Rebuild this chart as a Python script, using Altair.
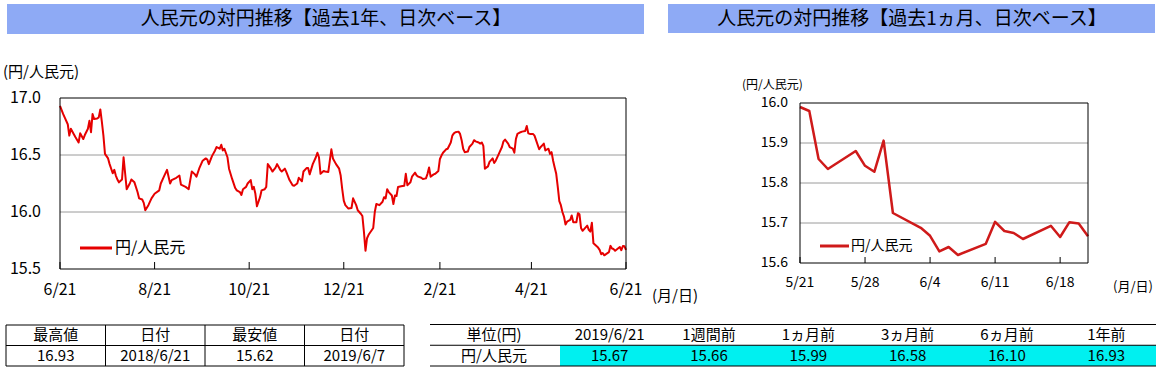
import altair as alt
import pandas as pd

FONT = "Noto Sans CJK JP"
RED_1Y = "#E60000"
RED_1M = "#CF1A1A"
GRID = "#9A9A9A"
BAR = "#8EAAF5"
CYAN = "#00F0F0"

# ---------------- data ----------------
YEAR_START = "2018-06-21"
YEAR_END = "2019-06-21"
# days since 2018-06-21
year_days = [0, 2, 5, 6, 7, 9, 10, 12, 13, 15, 16, 18, 19, 20, 21, 22, 24, 25, 26, 27,
             28, 29, 31, 32, 34, 35, 36, 37, 38, 40, 41, 42, 43, 45, 46, 48, 50, 51, 53, 54,
             55, 57, 59, 61, 64, 65, 67, 69, 71, 72, 75, 77, 78, 81, 83, 84, 85, 87, 88, 90,
             92, 94, 95, 96, 98, 100, 101, 103, 104, 105, 106, 108, 109, 111, 113, 114, 116, 117, 118, 120,
             121, 123, 124, 125, 126, 127, 129, 130, 132, 133, 134, 136, 137, 139, 140, 142, 143, 145, 146, 148,
             150, 151, 153, 154, 156, 157, 159, 160, 161, 163, 165, 166, 167, 168, 170, 171, 173, 174, 175, 176,
             178, 180, 181, 182, 183, 184, 186, 188, 189, 191, 192, 194, 195, 196, 197, 198, 199, 201, 202, 203,
             204, 206, 208, 209, 210, 211, 212, 214, 215, 216, 217, 218, 220, 222, 223, 224, 226, 227, 229, 230,
             231, 233, 234, 236, 237, 238, 239, 241, 242, 244, 245, 246, 247, 249, 250, 252, 253, 254, 255, 257,
             258, 259, 260, 261, 263, 264, 266, 267, 268, 270, 271, 272, 273, 274, 276, 277, 279, 280, 281, 283,
             285, 286, 287, 289, 290, 292, 293, 294, 295, 297, 298, 300, 301, 302, 303, 305, 306, 307, 309, 310,
             311, 312, 313, 315, 316, 317, 318, 319, 320, 321, 322, 323, 324, 325, 326, 327, 329, 330, 331, 332,
             333]
year_values = [16.93, 16.86, 16.77, 16.67, 16.73, 16.68, 16.655, 16.61, 16.69, 16.64, 16.675, 16.73, 16.80, 16.70, 16.86, 16.815, 16.82, 16.83, 16.90, 16.79,
               16.67, 16.51, 16.47, 16.42, 16.34, 16.37, 16.32, 16.285, 16.26, 16.285, 16.48, 16.34, 16.20, 16.25, 16.285, 16.26, 16.175, 16.12, 16.11, 16.08,
               16.015, 16.06, 16.12, 16.16, 16.19, 16.25, 16.31, 16.37, 16.25, 16.28, 16.30, 16.32, 16.24, 16.22, 16.20, 16.28, 16.355, 16.33, 16.31, 16.39,
               16.45, 16.47, 16.46, 16.42, 16.49, 16.54, 16.57, 16.555, 16.59, 16.54, 16.555, 16.48, 16.38, 16.29, 16.21, 16.19, 16.175, 16.15, 16.20, 16.22,
               16.25, 16.28, 16.20, 16.22, 16.16, 16.05, 16.13, 16.19, 16.20, 16.22, 16.42, 16.38, 16.355, 16.39, 16.42, 16.37, 16.355, 16.38, 16.35, 16.28,
               16.235, 16.23, 16.25, 16.30, 16.27, 16.355, 16.385, 16.385, 16.33, 16.42, 16.48, 16.52, 16.48, 16.335, 16.36, 16.355, 16.35, 16.45, 16.55, 16.47,
               16.42, 16.38, 16.32, 16.20, 16.10, 16.06, 16.03, 16.035, 16.12, 16.06, 16.015, 15.985, 15.965, 15.825, 15.66, 15.77, 15.80, 15.84, 15.86, 16.00,
               16.07, 16.06, 16.09, 16.13, 16.12, 16.20, 16.175, 16.145, 16.07, 16.145, 16.14, 16.22, 16.225, 16.23, 16.335, 16.235, 16.26, 16.31, 16.345, 16.32,
               16.31, 16.30, 16.29, 16.295, 16.335, 16.39, 16.31, 16.33, 16.335, 16.36, 16.465, 16.495, 16.52, 16.55, 16.555, 16.61, 16.67, 16.69, 16.70, 16.705,
               16.685, 16.63, 16.555, 16.525, 16.53, 16.57, 16.60, 16.63, 16.62, 16.61, 16.60, 16.61, 16.58, 16.38, 16.40, 16.44, 16.47, 16.43, 16.45, 16.51,
               16.57, 16.62, 16.635, 16.60, 16.57, 16.555, 16.52, 16.64, 16.685, 16.70, 16.705, 16.71, 16.755, 16.69, 16.685, 16.685, 16.67, 16.63, 16.55, 16.57,
               16.585, 16.60, 16.54, 16.555, 16.51, 16.525, 16.45, 16.39, 16.335, 16.22, 16.095, 16.06, 16.00, 15.96, 15.89, 15.915, 15.93, 15.97, 15.91, 15.91,
               15.91]

# last month
month_dates = ["2019-05-21", "2019-05-22", "2019-05-23", "2019-05-24", "2019-05-27", "2019-05-28",
               "2019-05-29", "2019-05-30", "2019-05-31", "2019-06-03", "2019-06-04", "2019-06-05",
               "2019-06-06", "2019-06-07", "2019-06-10", "2019-06-11", "2019-06-12", "2019-06-13",
               "2019-06-14", "2019-06-17", "2019-06-18", "2019-06-19", "2019-06-20", "2019-06-21"]
month_values = [15.99, 15.98, 15.86, 15.835, 15.88, 15.843,
                15.828, 15.906, 15.725, 15.688, 15.668, 15.629,
                15.64, 15.62, 15.648, 15.703, 15.68, 15.675,
                15.66, 15.693, 15.665, 15.702, 15.699, 15.667]

left_x_ticks = ["2018-06-21", "2018-08-21", "2018-10-21", "2018-12-21", "2019-02-21", "2019-04-21", "2019-06-21"]
left_x_labels = ["6/21", "8/21", "10/21", "12/21", "2/21", "4/21", "6/21"]
left_y_ticks = [15.5, 16.0, 16.5, 17.0]
left_y_labels = ["15.5", "16.0", "16.5", "17.0"]
left_grid = [16.0, 16.5]

right_x_ticks = ["2019-05-21", "2019-05-28", "2019-06-04", "2019-06-11", "2019-06-18"]
right_x_labels = ["5/21", "5/28", "6/4", "6/11", "6/18"]
right_y_ticks = [15.6, 15.7, 15.8, 15.9, 16.0]
right_y_labels = ["15.6", "15.7", "15.8", "15.9", "16.0"]
right_grid = [15.7, 15.8, 15.9]
RIGHT_START = "2019-05-21"
RIGHT_END = "2019-06-21"

title_left = "人民元の対円推移【過去1年、日次ベース】"
title_right = "人民元の対円推移【過去1ヵ月、日次ベース】"
unit_label = "(円/人民元)"
date_label = "(月/日)"
series_name = "円/人民元"

hl_headers = ["最高値", "日付", "最安値", "日付"]
hl_values = ["16.93", "2018/6/21", "15.62", "2019/6/7"]

cmp_corner = "単位(円)"
cmp_row = "円/人民元"
cmp_headers = ["2019/6/21", "1週間前", "1ヵ月前", "3ヵ月前", "6ヵ月前", "1年前"]
cmp_values = ["15.67", "15.66", "15.99", "16.58", "16.10", "16.93"]

# ---------------- tables ----------------
year_df = pd.DataFrame({
    "date": pd.Timestamp(YEAR_START) + pd.to_timedelta(year_days, unit="D"),
    "value": year_values,
})
month_df = pd.DataFrame({"date": pd.to_datetime(month_dates), "value": month_values})
full_df = pd.concat([year_df, month_df], ignore_index=True)

one = pd.DataFrame({"k": [0]})


def dt(s):
    t = pd.Timestamp(s)
    return alt.DateTime(year=t.year, month=t.month, date=t.day)


def txt(text, x, y, size, align="center", baseline="middle", color="black"):
    return alt.Chart(one).mark_text(text=text, font=FONT, fontSize=size, align=align,
                                    baseline=baseline, color=color).encode(
        x=alt.value(x), y=alt.value(y))


# ---------------- left: 1 year ----------------
def LX(f):
    return alt.X(f"{f}:T", scale=alt.Scale(domain=[dt(YEAR_START), dt(YEAR_END)], range=[60, 626], nice=False), axis=None)


def LY(f):
    return alt.Y(f"{f}:Q", scale=alt.Scale(domain=[15.5, 17.0], range=[269, 98], nice=False, zero=False), axis=None)


l_frame = pd.DataFrame({"start": [pd.Timestamp(YEAR_START)], "end": [pd.Timestamp(YEAR_END)], "lo": [15.5], "hi": [17.0]})
l_grid = pd.DataFrame({"start": pd.Timestamp(YEAR_START), "end": pd.Timestamp(YEAR_END), "v": left_grid})
l_xt = pd.DataFrame({"date": pd.to_datetime(left_x_ticks), "label": left_x_labels})
l_yt = pd.DataFrame({"v": left_y_ticks, "label": left_y_labels})

left = alt.layer(
    alt.Chart(l_grid).mark_rule(color=GRID, strokeWidth=1).encode(x=LX("start"), x2="end", y=LY("v")),
    alt.Chart(full_df).mark_line(color=RED_1Y, strokeWidth=2, strokeJoin="round").encode(x=LX("date"), y=LY("value")),
    alt.Chart(l_frame).mark_rect(fillOpacity=0, stroke="black", strokeWidth=1).encode(
        x=LX("start"), x2="end", y=LY("lo"), y2="hi"),
    alt.Chart(l_xt).mark_rule(color="black", strokeWidth=1).encode(x=LX("date"), y=alt.value(262), y2=alt.value(269)),
    alt.Chart(l_xt).mark_text(font=FONT, fontSize=16, baseline="middle").encode(
        x=LX("date"), y=alt.value(290), text="label:N"),
    alt.Chart(l_yt).mark_text(font=FONT, fontSize=16, align="right", baseline="middle").encode(
        x=alt.value(41), y=LY("v"), text="label:N"),
    alt.Chart(one).mark_rule(color=RED_1Y, strokeWidth=3).encode(x=alt.value(80), x2=alt.value(112), y=alt.value(248)),
    txt(series_name, 115, 248, 16, align="left"),
    txt(unit_label, 3, 72, 15, align="left"),
    txt(date_label, 652, 296, 15, align="left"),
)

# ---------------- right: 1 month ----------------
def RX(f):
    return alt.X(f"{f}:T", scale=alt.Scale(domain=[dt(RIGHT_START), dt(RIGHT_END)], range=[800, 1088], nice=False), axis=None)


def RY(f):
    return alt.Y(f"{f}:Q", scale=alt.Scale(domain=[15.6, 16.0], range=[263, 103], nice=False, zero=False), axis=None)


r_frame = pd.DataFrame({"start": [pd.Timestamp(RIGHT_START)], "end": [pd.Timestamp(RIGHT_END)], "lo": [15.6], "hi": [16.0]})
r_grid = pd.DataFrame({"start": pd.Timestamp(RIGHT_START), "end": pd.Timestamp(RIGHT_END), "v": right_grid})
r_xt = pd.DataFrame({"date": pd.to_datetime(right_x_ticks), "label": right_x_labels})
r_yt = pd.DataFrame({"v": right_y_ticks, "label": right_y_labels})

right = alt.layer(
    alt.Chart(r_grid).mark_rule(color=GRID, strokeWidth=1).encode(x=RX("start"), x2="end", y=RY("v")),
    alt.Chart(month_df).mark_line(color=RED_1M, strokeWidth=2.5, strokeJoin="round").encode(x=RX("date"), y=RY("value")),
    alt.Chart(r_frame).mark_rect(fillOpacity=0, stroke="black", strokeWidth=1).encode(
        x=RX("start"), x2="end", y=RY("lo"), y2="hi"),
    alt.Chart(r_xt).mark_rule(color="black", strokeWidth=1).encode(x=RX("date"), y=alt.value(257), y2=alt.value(263)),
    alt.Chart(r_xt).mark_text(font=FONT, fontSize=14, baseline="middle").encode(
        x=RX("date"), y=alt.value(283), text="label:N"),
    alt.Chart(r_yt).mark_text(font=FONT, fontSize=14, align="right", baseline="middle").encode(
        x=alt.value(788), y=RY("v"), text="label:N"),
    alt.Chart(one).mark_rule(color=RED_1M, strokeWidth=3).encode(x=alt.value(820), x2=alt.value(849), y=alt.value(246)),
    txt(series_name, 851, 246, 14, align="left"),
    txt(unit_label, 742, 85, 12, align="left"),
    txt(date_label, 1113, 287, 13, align="left"),
)

# ---------------- title bars ----------------
deco = alt.layer(
    alt.Chart(one).mark_rect(color=BAR).encode(x=alt.value(7), x2=alt.value(644), y=alt.value(4), y2=alt.value(34)),
    alt.Chart(one).mark_rect(color=BAR).encode(x=alt.value(668), x2=alt.value(1155), y=alt.value(4), y2=alt.value(33)),
    txt(title_left, 326, 19, 19),
    txt(title_right, 912, 18.5, 19),
)

# ---------------- high / low table ----------------
def TX(f):
    return alt.X(f"{f}:Q", scale=alt.Scale(domain=[0, 4], range=[6, 404], nice=False, zero=False), axis=None)


def TY(f):
    return alt.Y(f"{f}:Q", scale=alt.Scale(domain=[0, 2], range=[325, 366], nice=False, zero=False), axis=None)


hl_cells = pd.DataFrame({
    "col": [i + 0.5 for i in range(4)] * 2,
    "row": [0.5] * 4 + [1.5] * 4,
    "text": hl_headers + hl_values,
})
hl_frame = pd.DataFrame({"c0": [0], "c1": [4], "r0": [0], "r1": [2]})
hl_vlines = pd.DataFrame({"c": [1, 2, 3], "r0": 0, "r1": 2})
hl_hline = pd.DataFrame({"c0": [0], "c1": [4], "r": [1]})

hl_table = alt.layer(
    alt.Chart(hl_frame).mark_rect(fillOpacity=0, stroke="black", strokeWidth=1).encode(
        x=TX("c0"), x2="c1", y=TY("r0"), y2="r1"),
    alt.Chart(hl_vlines).mark_rule(color="black", strokeWidth=1).encode(x=TX("c"), y=TY("r0"), y2="r1"),
    alt.Chart(hl_hline).mark_rule(color="black", strokeWidth=1).encode(x=TX("c0"), x2="c1", y=TY("r")),
    alt.Chart(hl_cells).mark_text(font=FONT, fontSize=15, baseline="middle").encode(
        x=TX("col"), y=TY("row"), text="text:N"),
)

# ---------------- comparison table ----------------
def CX(f):
    return alt.X(f"{f}:Q", scale=alt.Scale(domain=[0, 6], range=[560, 1156], nice=False, zero=False), axis=None)


def CY(f):
    return alt.Y(f"{f}:Q", scale=alt.Scale(domain=[0, 2], range=[324.5, 366], nice=False, zero=False), axis=None)


cmp_cells = pd.DataFrame({
    "col": [i + 0.5 for i in range(6)] * 2,
    "row": [0.5] * 6 + [1.5] * 6,
    "text": cmp_headers + cmp_values,
})
cmp_fill = pd.DataFrame({"c0": [0], "c1": [6], "r0": [1], "r1": [2]})
cmp_lines = pd.DataFrame({"r": [0, 1, 2]})
cmp_side = pd.DataFrame({"row": [0.5, 1.5], "text": [cmp_corner, cmp_row]})

cmp_table = alt.layer(
    alt.Chart(cmp_fill).mark_rect(color=CYAN).encode(x=CX("c0"), x2="c1", y=CY("r0"), y2="r1"),
    alt.Chart(cmp_lines).mark_rule(color="black", strokeWidth=1).encode(
        x=alt.value(430), x2=alt.value(1156), y=CY("r")),
    alt.Chart(cmp_cells).mark_text(font=FONT, fontSize=15, baseline="middle").encode(
        x=CX("col"), y=CY("row"), text="text:N"),
    alt.Chart(cmp_side).mark_text(font=FONT, fontSize=15, baseline="middle").encode(
        x=alt.value(494), y=CY("row"), text="text:N"),
)

chart = alt.layer(left, right, deco, hl_table, cmp_table).resolve_scale(
    x="independent", y="independent"
).properties(
    width=1167, height=373, padding=0, autosize=alt.AutoSizeParams(type="none"), background="white"
).configure_view(stroke=None)

chart.save("out.html", embed_options={"renderer": "svg", "actions": False})
